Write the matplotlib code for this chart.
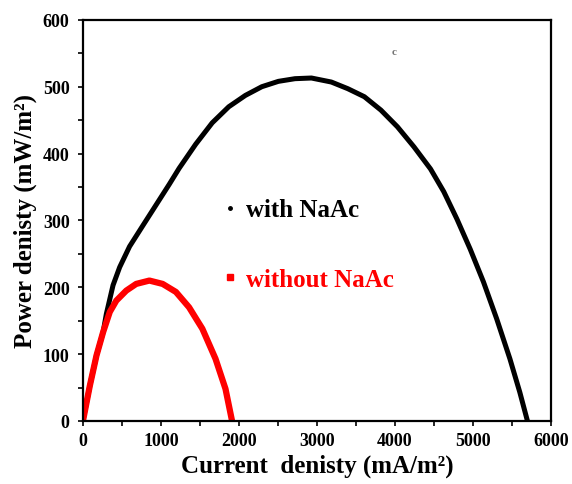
import matplotlib.pyplot as plt
from matplotlib.lines import Line2D

# with NaAc (black)
with_x = [0, 89, 174, 259, 300, 386, 471, 598, 767, 937, 1107, 1234, 1446, 1658, 1870,
          2083, 2294, 2506, 2719, 2930, 3185, 3397, 3609, 3821, 4033, 4245, 4457, 4627,
          4796, 4966, 5136, 5305, 5475, 5602, 5700]
with_y = [0, 53, 98, 133, 160, 203, 230, 261, 292, 323, 354, 378, 414, 446, 470,
          487, 500, 508, 512, 513, 507, 497, 485, 465, 440, 410, 377, 343,
          302, 257, 208, 153, 93, 43, 0]

# without NaAc (red)
without_x = [0, 89, 174, 259, 344, 428, 556, 683, 852, 1022, 1192, 1361, 1467, 1531,
             1700, 1828, 1912]
without_y = [0, 53, 98, 133, 163, 180, 195, 205, 210, 205, 193, 170, 150, 138,
             93, 48, 0]

plt.rcParams['font.family'] = 'Liberation Serif'
plt.rcParams['font.weight'] = 'bold'

fig = plt.figure(figsize=(5.72, 4.85), dpi=100)
ax = fig.add_axes([0.145, 0.130, 0.818, 0.827])

ax.plot(with_x, with_y, color="black", lw=3.6, solid_capstyle="round", solid_joinstyle="round")
ax.plot(without_x, without_y, color="red", lw=4.5, solid_capstyle="round", solid_joinstyle="round")

ax.set_xlim(0, 6000)
ax.set_ylim(0, 600)
ax.set_xticks(range(0, 6001, 1000))
ax.set_xticks(range(0, 6001, 500), minor=True)
ax.set_yticks(range(0, 601, 100))
ax.set_yticks(range(0, 601, 50), minor=True)
ax.tick_params(which="both", direction="out", length=3.6, width=1.2, labelsize=13)
ax.tick_params(axis="y", pad=6)
ax.tick_params(axis="x", pad=4)
for s in ax.spines.values():
    s.set_linewidth(1.6)

ax.set_xlabel("Current  denisty (mA/m²)", fontsize=18, fontweight="bold", labelpad=4)
ax.set_ylabel("Power denisty (mW/m²)", fontsize=18, fontweight="bold", labelpad=4)

handles = [Line2D([], [], ls="none", marker="o", ms=2.5, color="black"),
           Line2D([], [], ls="none", marker="s", ms=4, color="red")]
leg = ax.legend(handles, ["with NaAc", "without NaAc"], loc="center left",
                bbox_to_anchor=(0.274, 0.44), frameon=False, fontsize=18,
                handlelength=0.5, handletextpad=0.4, labelspacing=1.85, borderpad=0)
leg.get_texts()[0].set_color("black")
leg.get_texts()[1].set_color("red")

ax.text(0.66, 0.915, "c", transform=ax.transAxes, fontsize=8, color="0.45")

fig.savefig("out.png", dpi=100)
